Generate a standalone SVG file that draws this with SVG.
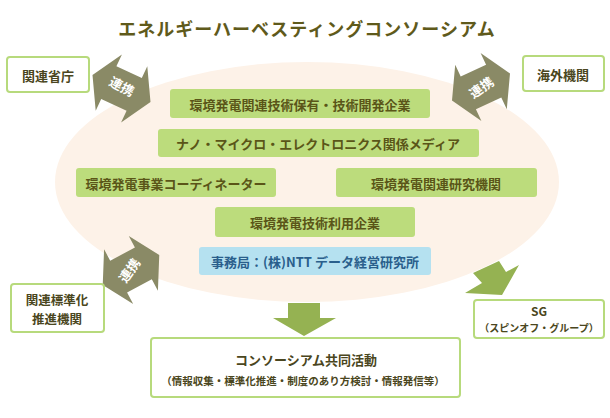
<svg xmlns="http://www.w3.org/2000/svg" width="610" height="418" viewBox="0 0 610 418">
<defs>
<style>
text{font-family:"Noto Sans CJK JP","Noto Sans",sans-serif;text-anchor:middle;dominant-baseline:central}
.title{font-size:18px;font-weight:bold;fill:#5f5a1b;letter-spacing:1px}
.gbox{fill:#bcdc7c}
.gt{font-size:13px;font-weight:bold;fill:#5a5518}
.wbox{fill:#fff;stroke:#b7da7c;stroke-width:2}
.wt{font-size:13px;font-weight:bold;fill:#4a4620}
.st{font-size:10.5px;font-weight:bold;fill:#4a4620}
.link{fill:#8a8a66}
.flow{fill:#95b252}
.lt{font-size:13px;font-weight:bold;fill:#fff}
</style>
<polygon id="dbl" points="-32,0 -14,-31 -14,-18 14,-18 14,-31 32,0 14,31 14,18 -14,18 -14,31"/>
</defs>
<rect width="610" height="418" fill="#fff"/>
<text class="title" x="307" y="28">エネルギーハーベスティングコンソーシアム</text>
<ellipse cx="307" cy="182" rx="252" ry="120" fill="#fdf2e8"/>
<g id="connectors">
<g class="link">
<use href="#dbl" transform="translate(121.5,88.5) rotate(25)"/>
<use href="#dbl" transform="translate(481,87) rotate(-25)"/>
<use href="#dbl" transform="translate(131,270) rotate(-28)"/>
</g>
<text class="lt" transform="translate(122,86) rotate(28)">連携</text>
<text class="lt" transform="translate(481,87) rotate(-35)">連携</text>
<text class="lt" transform="translate(129,270) rotate(-55)">連携</text>
<polygon class="flow" points="288,303 320,303 320,318 336,318 304,336 273,318 288,318"/>
<polygon class="flow" points="499,261 506,272 519,265 502,295 465,293 482,283 473,273"/>
</g>
<g id="n-gov"><rect class="wbox" x="7" y="57" width="82" height="35" rx="3"/><text class="wt" x="48" y="75">関連省庁</text></g>
<g id="n-overseas"><rect class="wbox" x="523" y="56" width="81" height="35" rx="3"/><text class="wt" x="563" y="74">海外機関</text></g>
<g id="n-std"><rect class="wbox" x="11" y="284" width="93" height="48" rx="3"/><text class="wt" x="57" y="299" style="font-size:12.5px">関連標準化</text><text class="wt" x="57" y="318" style="font-size:12.5px">推進機関</text></g>
<g id="n-sg"><rect class="wbox" x="474" y="300" width="130" height="38" rx="3"/><text class="wt" x="539" y="310" style="font-size:12px">SG</text><text class="st" x="539" y="327" style="font-size:10px">（スピンオフ・グループ）</text></g>
<g id="n-activity"><rect class="wbox" x="151" y="338" width="309" height="59" rx="3"/><text class="wt" x="306" y="359">コンソーシアム共同活動</text><text class="st" x="303" y="380">（情報収集・標準化推進・制度のあり方検討・情報発信等）</text></g>
<g id="n-b1"><rect class="gbox" x="170" y="89" width="260" height="29" rx="3"/><text class="gt" x="300" y="104">環境発電関連技術保有・技術開発企業</text></g>
<g id="n-b2"><rect class="gbox" x="158" y="129" width="321" height="28" rx="3"/><text class="gt" x="318" y="143">ナノ・マイクロ・エレクトロニクス関係メディア</text></g>
<g id="n-b3"><rect class="gbox" x="76" y="168" width="200" height="29" rx="3"/><text class="gt" x="176" y="183">環境発電事業コーディネーター</text></g>
<g id="n-b4"><rect class="gbox" x="336" y="168" width="201" height="29" rx="3"/><text class="gt" x="436" y="183">環境発電関連研究機関</text></g>
<g id="n-b5"><rect class="gbox" x="215" y="207" width="200" height="30" rx="3"/><text class="gt" x="315" y="222">環境発電技術利用企業</text></g>
<g id="n-office"><rect x="199" y="247" width="232" height="28" rx="3" fill="#b5e1f0"/><text class="gt" x="315" y="261" style="fill:#2a5f8c">事務局：(株)NTT データ経営研究所</text></g>
</svg>
